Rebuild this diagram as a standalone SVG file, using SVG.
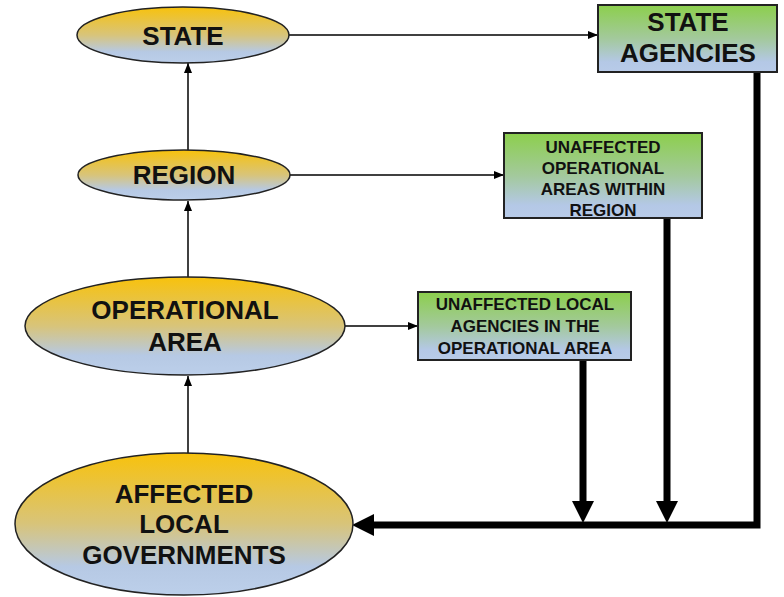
<svg xmlns="http://www.w3.org/2000/svg" width="784" height="597" viewBox="0 0 784 597">
<defs>
<linearGradient id="gOval" x1="0" y1="0" x2="0" y2="1">
<stop offset="0" stop-color="#f8c20c"/>
<stop offset="0.5" stop-color="#d8c47a"/>
<stop offset="0.8" stop-color="#b6c9e4"/>
<stop offset="1" stop-color="#bccfea"/>
</linearGradient>
<linearGradient id="gBox" x1="0" y1="0" x2="0" y2="1">
<stop offset="0" stop-color="#8ccf4c"/>
<stop offset="0.5" stop-color="#a3c99c"/>
<stop offset="0.85" stop-color="#b4c8e6"/>
<stop offset="1" stop-color="#b8cbe8"/>
</linearGradient>
<marker id="thin" viewBox="0 0 10 10" refX="10" refY="5" markerWidth="10" markerHeight="10" markerUnits="userSpaceOnUse" orient="auto">
<path d="M0,1 L10,5 L0,9 Z" fill="#000"/>
</marker>
<marker id="thick" viewBox="0 0 20 22" refX="20" refY="11" markerWidth="20" markerHeight="22" markerUnits="userSpaceOnUse" orient="auto">
<path d="M0,0 L20,11 L0,22 Z" fill="#000"/>
</marker>
</defs>
<style>
.oval{fill:url(#gOval);stroke:#222;stroke-width:1.5}
.box{fill:url(#gBox);stroke:#222;stroke-width:2}
.big{font-family:"Liberation Sans",Arial,sans-serif;font-weight:bold;font-size:26px;fill:#111;text-anchor:middle}
.small{font-family:"Liberation Sans",Arial,sans-serif;font-weight:bold;font-size:17px;fill:#111;text-anchor:middle}
.thin{stroke:#000;stroke-width:1.5;fill:none;marker-end:url(#thin)}
.thk{stroke:#000;stroke-width:7;fill:none}
</style>
<g id="connectors">
<line class="thin" x1="288" y1="35" x2="598" y2="35"/>
<line class="thin" x1="290" y1="175" x2="504" y2="175"/>
<line class="thin" x1="345" y1="326" x2="418" y2="326"/>
<line class="thin" x1="188" y1="150" x2="188" y2="63"/>
<line class="thin" x1="188" y1="278" x2="188" y2="201"/>
<line class="thin" x1="188" y1="453" x2="188" y2="376"/>
<polyline class="thk" points="757,72 757,525 372,525" stroke-linejoin="miter"/>
<path d="M352,525 L374,514 L374,536 Z" fill="#000"/>
<line class="thk" x1="583" y1="360" x2="583" y2="504"/>
<path d="M572,501 L594,501 L583,523 Z" fill="#000"/>
<line class="thk" x1="667" y1="218" x2="667" y2="504"/>
<path d="M656,501 L678,501 L667,523 Z" fill="#000"/>
</g>
<g id="state">
<ellipse class="oval" cx="183" cy="35" rx="106" ry="28"/>
<text class="big" x="183" y="45">STATE</text>
</g>
<g id="state-agencies">
<rect class="box" x="598" y="5" width="179" height="67"/>
<text class="big" x="688" y="31">STATE</text>
<text class="big" x="688" y="62">AGENCIES</text>
</g>
<g id="region">
<ellipse class="oval" cx="184" cy="175" rx="106" ry="25"/>
<text class="big" x="184" y="184">REGION</text>
</g>
<g id="unaffected-op-areas">
<rect class="box" x="504" y="133" width="198" height="85"/>
<text class="small" x="603" y="153">UNAFFECTED</text>
<text class="small" x="603" y="174">OPERATIONAL</text>
<text class="small" x="603" y="195">AREAS WITHIN</text>
<text class="small" x="603" y="216">REGION</text>
</g>
<g id="operational-area">
<ellipse class="oval" cx="185" cy="326" rx="160" ry="49"/>
<text class="big" x="185" y="319">OPERATIONAL</text>
<text class="big" x="185" y="351">AREA</text>
</g>
<g id="unaffected-local">
<rect class="box" x="418" y="292" width="213" height="68"/>
<text class="small" x="525" y="310">UNAFFECTED LOCAL</text>
<text class="small" x="525" y="332">AGENCIES IN THE</text>
<text class="small" x="525" y="354">OPERATIONAL AREA</text>
</g>
<g id="affected-local">
<ellipse class="oval" cx="184" cy="524" rx="169" ry="71"/>
<text class="big" x="184" y="503">AFFECTED</text>
<text class="big" x="184" y="533">LOCAL</text>
<text class="big" x="184" y="564">GOVERNMENTS</text>
</g>
</svg>
